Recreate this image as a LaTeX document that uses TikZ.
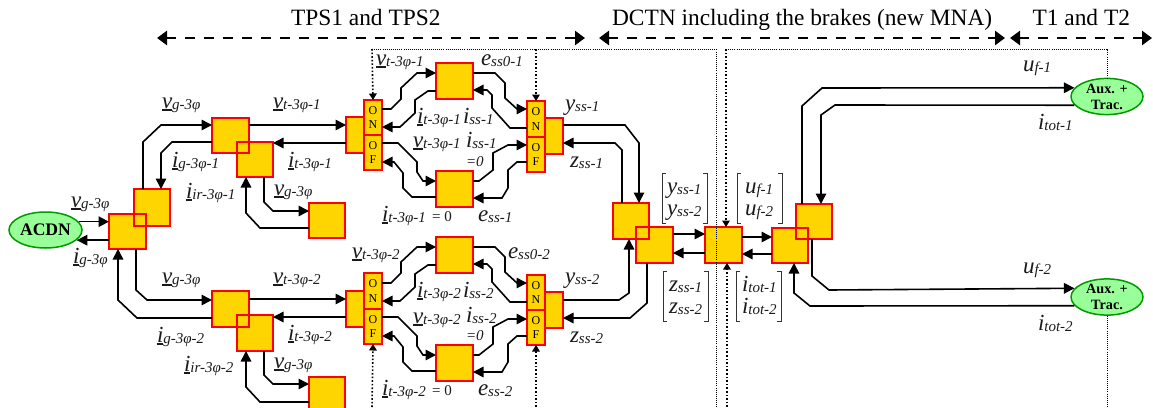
\documentclass[tikz,border=0pt]{standalone}
\usepackage{fontspec}
\setmainfont{Liberation Serif}
\usetikzlibrary{arrows.meta,shapes.geometric}
\definecolor{blockfill}{HTML}{FFD500}
\definecolor{greenfill}{HTML}{99FF99}
\definecolor{greenline}{HTML}{009900}
\definecolor{labtext}{HTML}{1A1A1A}
\newcommand{\ulbox}[1]{\setbox0\hbox{#1}\rlap{\raisebox{-3pt}{\rule{\wd0}{1.6pt}}}\box0}
\newcommand{\bigf}{\fontsize{23}{23}\selectfont\itshape}
\newcommand{\subf}{\fontsize{15}{15}\selectfont\itshape}
\newcommand{\uq}[2]{{\bigf\ulbox{#1}}\raisebox{-1pt}{\subf #2}}
\newcommand{\pq}[2]{{\bigf #1}\raisebox{-1pt}{\subf #2}}
\newcommand{\blockat}[5]{\node[blockbox,minimum width={(#4-#2)*1pt},minimum height={(#5-#3)*1pt}] (#1) at ({(#2+#4)/2},{(#3+#5)/2}) {};}
\newcommand{\swbox}[6]{\node[switchbox,minimum width={(#4-#2)*1pt},minimum height={(#5-#3)*1pt}] (#1) at ({(#2+#4)/2},{(#3+#5)/2}) {#6};}
\newcommand{\reoutline}[1]{\draw[red,line width=1.7pt] (#1.south west) rectangle (#1.north east);}
\newcommand{\lbl}[4]{\node[labnode] (#1) at (#2,#3) {#4};}
\newcommand{\brkL}[3]{\draw[brk] (#1+4,#2) -- (#1,#2) -- (#1,#3) -- (#1+4,#3);}
\newcommand{\brkR}[3]{\draw[brk] (#1-4,#2) -- (#1,#2) -- (#1,#3) -- (#1-4,#3);}
\tikzset{
  blockbox/.style={draw=red,fill=blockfill,line width=1.7pt,inner sep=0pt,outer sep=0pt},
  switchbox/.style={draw=red,fill=blockfill,line width=1.7pt,inner sep=0pt,outer sep=0pt,align=center,
     font=\fontsize{12}{14.5}\selectfont},
  conn/.style={draw=black,line width=1.6pt,-{Triangle[length=10.5pt,width=10.5pt]}},
  span/.style={draw=black,line width=2.5pt,dash pattern=on 10pt off 9pt,
     {Triangle[length=10pt,width=14pt]}-{Triangle[length=10pt,width=14pt]}},
  thindot/.style={draw=black,line width=1pt,dash pattern=on 1pt off 1.1pt},
  thickdot/.style={draw=black,line width=1.6pt,dash pattern=on 1.6pt off 2pt,-{Triangle[length=6.5pt,width=7.5pt]}},
  labnode/.style={anchor=base west,inner sep=0pt,outer sep=0pt,text=labtext},
  titlenode/.style={anchor=base west,inner sep=0pt,outer sep=0pt,font=\fontsize{23.4}{23.4}\selectfont},
  brk/.style={draw=black!80,line width=0.9pt},
  greenell/.style={ellipse,draw=greenline,fill=greenfill,line width=1.5pt,inner sep=0pt,align=center,
     minimum width=72pt,minimum height=35pt,font=\bfseries\fontsize{14.2}{16}\selectfont},
}
\begin{document}
\begin{tikzpicture}[x=1pt,y=-1pt]
\useasboundingbox (0,0) rectangle (1153,407);
% titles
\node[titlenode] (t1) at (291,25) {TPS1 and TPS2};
\node[titlenode] (t2) at (612,25) {DCTN including the brakes (new MNA)};
\node[titlenode] (t3) at (1032.5,25) {T1 and T2};
\coordinate (s1a) at (157,38); \coordinate (s1b) at (585,38);
\coordinate (s2a) at (599,38); \coordinate (s2b) at (1005,38);
\coordinate (s3a) at (1010,38); \coordinate (s3b) at (1152,38);
\draw[span] (s1a) -- (s1b);
\draw[span] (s2a) -- (s2b);
\draw[span] (s3a) -- (s3b);
% ellipses
\node[greenell,minimum width=73pt,minimum height=36pt,font=\bfseries\fontsize{17.6}{18}\selectfont] (ACDN) at (45.5,230) {ACDN};
\node[greenell] (AUX1) at (1107,96.5) {Aux. +\\Trac.};
\node[greenell] (AUX2) at (1107,297) {Aux. +\\Trac.};
% blocks
\blockat{A1}{134}{189}{170}{226}
\blockat{A0}{109}{214}{146}{249}
\reoutline{A1}
\blockat{B1}{212}{118}{249}{153}
\blockat{B2}{237}{142}{273}{177}
\reoutline{B1}
\blockat{B3}{309}{203}{345}{238}
\blockat{C}{346}{117}{364}{153}
\swbox{ON1}{364}{100}{382}{135}{O\\N}
\swbox{OF1}{364}{135}{382}{170}{O\\F}
\blockat{D1}{436}{63}{473}{99}
\blockat{D2}{436}{171}{473}{207}
\blockat{E}{545}{118}{563}{154}
\swbox{ONR1}{527}{101}{545}{137}{O\\N}
\swbox{OFR1}{527}{137}{545}{172}{O\\F}
\blockat{Bb1}{212}{291}{249}{327}
\blockat{Bb2}{237}{315}{273}{351}
\reoutline{Bb1}
\blockat{Bb3}{309}{377}{345}{413}
\blockat{Cb}{346}{291}{364}{327}
\swbox{ON2}{364}{273}{382}{309}{O\\N}
\swbox{OF2}{364}{309}{382}{344}{O\\F}
\blockat{Db1}{436}{237}{473}{273}
\blockat{Db2}{436}{345}{473}{381}
\blockat{Eb}{545}{292}{563}{328}
\swbox{ONR2}{527}{275}{545}{310}{O\\N}
\swbox{OFR2}{527}{310}{545}{345}{O\\F}
\blockat{F1}{613}{203}{649}{239}
\blockat{F2}{636}{227}{673}{263}
\reoutline{F1}
\blockat{G}{705}{227}{742}{263}
\blockat{H2}{796}{204}{832}{239}
\blockat{H1}{772}{228}{808}{263}
\reoutline{H2}
% ACDN
\draw[conn] (ACDN.14) -- (A0.west |- ACDN.14);
\draw[conn] (A0.west |- ACDN.342) -- (ACDN.342);
% left top
\draw[conn] (A1.north -| 143,0) -- (143,142) -- (161,125) -- (B1.west |- 0,125);
\draw[conn] (B1.west |- 0,142) -- (172,142) -- (161,153) -- (A1.north -| 161,0);
\draw[conn] (B1.east |- 0,125) -- (C.west |- 0,125);
\draw[conn] (C.west |- 0,143) -- (B2.east |- 0,143);
\draw[conn] (B3.west |- 0,228) -- (260,228) -- (246,213) -- (B2.south -| 246,0);
\draw[conn] (B2.south -| 264,0) -- (264,202) -- (273,211) -- (B3.west |- 0,211);
% left bottom
\draw[conn] (A0.south -| 136,0) -- (136,290) -- (147,300) -- (Bb1.west |- 0,300);
\draw[conn] (Bb1.west |- 0,318) -- (137,318) -- (118,300) -- (A0.south -| 118,0);
\draw[conn] (Bb1.east |- 0,299) -- (Cb.west |- 0,299);
\draw[conn] (Cb.west |- 0,317) -- (Bb2.east |- 0,317);
\draw[conn] (Bb3.west |- 0,402) -- (260,402) -- (246,387) -- (Bb2.south -| 246,0);
\draw[conn] (Bb2.south -| 264,0) -- (264,375) -- (273,384) -- (Bb3.west |- 0,384);
% switch top
\draw[conn] (ON1.east |- 0,109) -- (391,109) -- (401,99) -- (401,88) -- (417,73) -- (D1.west |- 0,73);
\draw[conn] (D1.west |- 0,91) -- (428,91) -- (415,100) -- (415,113) -- (400,127) -- (ON1.east |- 0,127);
\draw[conn] (OF1.east |- 0,143) -- (398,143) -- (417,162) -- (417,172) -- (423,181) -- (D2.west |- 0,181);
\draw[conn] (D2.west |- 0,197) -- (412,197) -- (403,188) -- (403,173) -- (394,162) -- (OF1.east |- 0,162);
\draw[conn] (D1.east |- 0,73) -- (495,73) -- (505,83) -- (505,98) -- (517,109) -- (ONR1.west |- 0,109);
\draw[conn] (ONR1.west |- 0,128) -- (510,128) -- (492,108) -- (492,95) -- (487,90) -- (D1.east |- 0,90);
\draw[conn] (D2.east |- 0,181) -- (479,181) -- (493,170) -- (493,153) -- (508,145) -- (OFR1.west |- 0,145);
\draw[conn] (OFR1.west |- 0,162) -- (517,162) -- (508,170) -- (508,188) -- (502,198) -- (D2.east |- 0,198);
% switch bottom
\draw[conn] (ON2.east |- 0,283) -- (391,283) -- (401,273) -- (401,262) -- (417,247) -- (Db1.west |- 0,247);
\draw[conn] (Db1.west |- 0,265) -- (428,265) -- (415,274) -- (415,287) -- (400,301) -- (ON2.east |- 0,301);
\draw[conn] (OF2.east |- 0,317) -- (398,317) -- (417,336) -- (417,346) -- (423,355) -- (Db2.west |- 0,355);
\draw[conn] (Db2.west |- 0,371) -- (412,371) -- (403,362) -- (403,347) -- (394,336) -- (OF2.east |- 0,336);
\draw[conn] (Db1.east |- 0,247) -- (495,247) -- (505,257) -- (505,272) -- (517,283) -- (ONR2.west |- 0,283);
\draw[conn] (ONR2.west |- 0,302) -- (510,302) -- (492,282) -- (492,269) -- (487,264) -- (Db1.east |- 0,264);
\draw[conn] (Db2.east |- 0,355) -- (479,355) -- (493,344) -- (493,327) -- (508,319) -- (OFR2.west |- 0,319);
\draw[conn] (OFR2.west |- 0,336) -- (517,336) -- (508,344) -- (508,362) -- (502,372) -- (Db2.east |- 0,372);
% y, z
\draw[conn] (E.east |- 0,125) -- (625,125) -- (639,143) -- (F1.north -| 639,0);
\draw[conn] (F1.north -| 622,0) -- (622,150) -- (615,143) -- (E.east |- 0,143);
\draw[conn] (Eb.east |- 0,300) -- (619,300) -- (629,293) -- (F1.south -| 629,0);
\draw[conn] (F2.south -| 647,0) -- (647,303) -- (630,318) -- (Eb.east |- 0,318);
% DC
\draw[conn] (F2.east |- 0,234) -- (G.west |- 0,234);
\draw[conn] (G.west |- 0,253) -- (F2.east |- 0,253);
\draw[conn] (G.east |- 0,237) -- (H1.west |- 0,237);
\draw[conn] (H1.west |- 0,254) -- (G.east |- 0,254);
% traction
\draw[conn] (H2.north -| 802,0) -- (802,106) -- (822,88) -- (AUX1.165);
\draw[conn] (AUX1.195) -- (835,105) -- (821,115) -- (H2.north -| 821,0);
\draw[conn] (H2.south -| 812,0) -- (812,276) -- (829,290) -- (AUX2.165);
\draw[conn] (AUX2.195) -- (810,306) -- (794,293) -- (H1.south -| 794,0);
% dotted
\coordinate (dl) at (372,49); \coordinate (dm) at (536,49); \coordinate (dc) at (716,49);
\coordinate (dr) at (726,49); \coordinate (de) at (1107,49);
\coordinate (b1) at (372,407); \coordinate (b2) at (536,407); \coordinate (b3) at (716,407);
\coordinate (b4) at (727,407); \coordinate (b5) at (1107,407);
\draw[thindot] (dl) -- (dc) -- (b3);
\draw[thindot] (dr) -- (de) -- (AUX1.north);
\draw[thindot] (AUX2.south) -- (b5);
\draw[thickdot] (dl) -- (ON1.north);
\draw[thickdot] (dm) -- (ONR1.north);
\draw[thickdot] (dr) -- (G.north -| dr);
\draw[thickdot] (b1) -- (OF2.south);
\draw[thickdot] (b2) -- (OFR2.south);
\draw[thickdot] (b4) -- (G.south -| b4);
% labels
\lbl{la1}{162}{108}{\uq{v}{g-3φ}}
\lbl{la2}{273}{108}{\uq{v}{t-3φ-1}}
\lbl{la3}{172}{167}{\uq{i}{g-3φ-1}}
\lbl{la4}{288}{167}{\uq{i}{t-3φ-1}}
\lbl{la5}{186}{198}{\uq{i}{ir-3φ-1}}
\lbl{la6}{274}{195}{\uq{v}{g-3φ}}
\lbl{la7}{71}{207}{\uq{v}{g-3φ}}
\lbl{lb1}{73}{263}{\uq{i}{g-3φ}}
\lbl{lb2}{162}{283}{\uq{v}{g-3φ}}
\lbl{lb3}{273}{283}{\uq{v}{t-3φ-2}}
\lbl{lb4}{157}{342}{\uq{i}{g-3φ-2}}
\lbl{lb5}{288}{340}{\uq{i}{t-3φ-2}}
\lbl{lb6}{184}{371}{\uq{i}{ir-3φ-2}}
\lbl{lb7}{274}{368}{\uq{v}{g-3φ}}
\lbl{lc1}{376}{65}{\uq{v}{t-3φ-1}}
\lbl{lc2}{481}{65}{\pq{e}{ss0-1}}
\lbl{lc3}{565}{110}{\pq{y}{ss-1}}
\lbl{lc4}{417}{123}{\uq{i}{t-3φ-1}}
\lbl{lc5}{463}{123}{\pq{i}{ss-1}}
\lbl{lc6}{413}{147}{\uq{v}{t-3φ-1}}
\lbl{lc7}{466}{147}{\pq{i}{ss-1}}
\lbl{lc8}{466}{166}{{\subf =0}}
\lbl{lc9}{570}{167}{\pq{z}{ss-1}}
\lbl{lc10}{382}{221}{\uq{i}{t-3φ-1}{\fontsize{15}{15}\selectfont\ \,= 0}}
\lbl{lc11}{478}{221}{\pq{e}{ss-1}}
\lbl{ld1}{352}{258}{\uq{v}{t-3φ-2}}
\lbl{ld2}{508}{258}{\pq{e}{ss0-2}}
\lbl{ld3}{565}{283}{\pq{y}{ss-2}}
\lbl{ld4}{417}{297}{\uq{i}{t-3φ-2}}
\lbl{ld5}{463}{297}{\pq{i}{ss-2}}
\lbl{ld6}{413}{323}{\uq{v}{t-3φ-2}}
\lbl{ld7}{466}{322}{\pq{i}{ss-2}}
\lbl{ld8}{466}{340}{{\subf =0}}
\lbl{ld9}{570}{342}{\pq{z}{ss-2}}
\lbl{ld10}{382}{395}{\uq{i}{t-3φ-2}{\fontsize{15}{15}\selectfont\ \,= 0}}
\lbl{ld11}{478}{395}{\pq{e}{ss-2}}
% matrices
\lbl{m1}{667}{193}{\pq{y}{ss-1}}
\lbl{m2}{667}{215}{\pq{y}{ss-2}}
\brkL{662}{173}{223}\brkR{707}{173}{223}
\lbl{m3}{669}{291}{\pq{z}{ss-1}}
\lbl{m4}{669}{313}{\pq{z}{ss-2}}
\brkL{663}{271}{321}\brkR{708}{271}{321}
\lbl{m5}{745}{193}{\pq{u}{f-1}}
\lbl{m6}{745}{215}{\pq{u}{f-2}}
\brkL{737}{173}{223}\brkR{782}{173}{223}
\lbl{m7}{742}{291}{\pq{i}{tot-1}}
\lbl{m8}{742}{313}{\pq{i}{tot-2}}
\brkL{736}{271}{321}\brkR{781}{271}{321}
\lbl{r1}{1023}{71}{\pq{u}{f-1}}
\lbl{r2}{1038}{129}{\pq{i}{tot-1}}
\lbl{r3}{1023}{273}{\pq{u}{f-2}}
\lbl{r4}{1038}{330}{\pq{i}{tot-2}}
\end{tikzpicture}
\end{document}
